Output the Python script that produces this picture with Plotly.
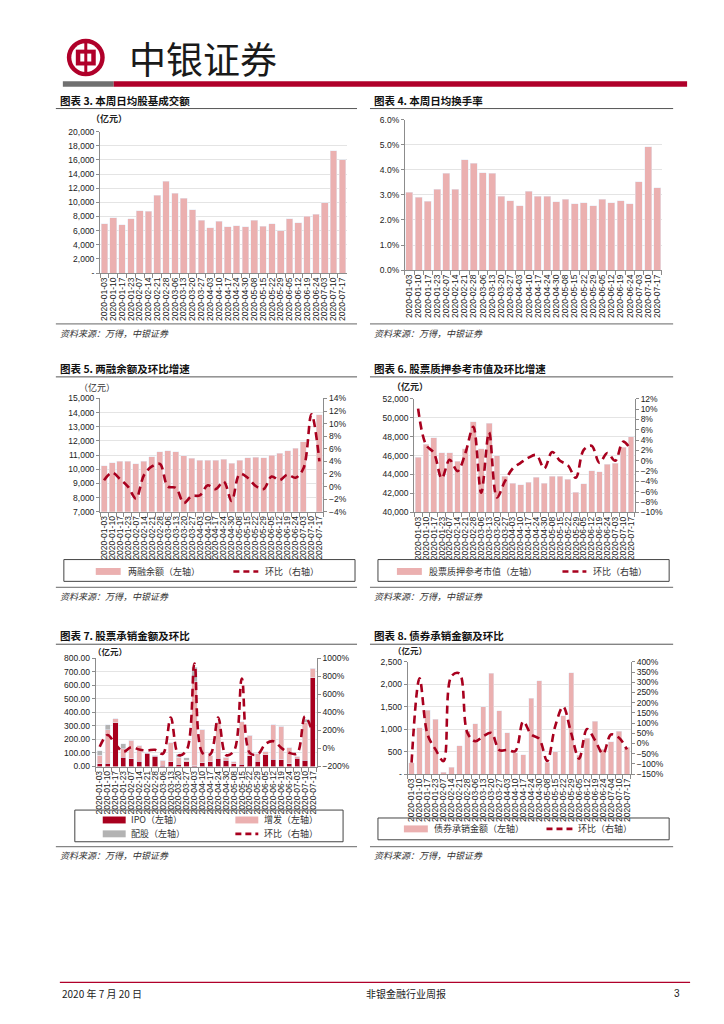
import plotly.graph_objects as go

# ---------------- data ----------------
dates_a = ["2020-01-03", "2020-01-10", "2020-01-17", "2020-01-23", "2020-02-07", "2020-02-14",
           "2020-02-21", "2020-02-28", "2020-03-06", "2020-03-13", "2020-03-20", "2020-03-27",
           "2020-04-03", "2020-04-10", "2020-04-17", "2020-04-24", "2020-04-30", "2020-05-08",
           "2020-05-15", "2020-05-22", "2020-05-29", "2020-06-05", "2020-06-12", "2020-06-19",
           "2020-06-24", "2020-07-03", "2020-07-10", "2020-07-17"]
dates_b = ["2020-01-03", "2020-01-10", "2020-01-17", "2020-01-23", "2020-02-07", "2020-02-14",
           "2020-02-21", "2020-02-28", "2020-03-06", "2020-03-13", "2020-03-20", "2020-03-27",
           "2020-04-03", "2020-04-10", "2020-04-17", "2020-04-24", "2020-04-30", "2020-05-08",
           "2020-05-15", "2020-05-22", "2020-05-29", "2020-06-05", "2020-06-12", "2020-06-19",
           "2020-06-24", "2020-07-04", "2020-07-10", "2020-07-17"]

# 图表3 本周日均股基成交额（亿元）
turnover = [7000, 7800, 6800, 7700, 8800, 8750, 11000, 13000, 11300, 10600, 8950, 7450, 6400, 7300,
            6550, 6700, 6550, 7450, 6650, 7000, 5950, 7700, 7100, 8000, 8300, 9950, 17300, 16000]
# 图表4 本周日均换手率（%）
turnover_rate = [3.10, 2.90, 2.75, 3.22, 3.86, 3.22, 4.41, 4.27, 3.88, 3.86, 2.95, 2.77, 2.57, 3.15,
                 2.95, 2.95, 2.72, 2.83, 2.65, 2.68, 2.57, 2.83, 2.68, 2.77, 2.65, 3.52, 4.92, 3.28]
# 图表5 两融余额（亿元）及环比（%）
margin_bal = [10250, 10450, 10570, 10570, 10380, 10550, 10900, 11250, 11300, 11250, 10950, 10780,
              10620, 10650, 10620, 10700, 10420, 10620, 10820, 10850, 10830, 10980, 11120, 11300,
              11500, 11950, None, 13850]
margin_chg = [1.0, 2.2, 1.2, 0.0, -1.9, 1.8, 3.2, 3.6, 0.0, -0.2, -2.6, -1.5, -1.4, 0.2, -0.4, 0.8,
              -2.3, 2.0, 1.4, 0.1, -0.4, 1.6, 1.0, 1.9, 1.4, 2.9, 11.5, 4.0]
# 图表6 股票质押参考市值（亿元）及环比（%）
pledge_val = [45800, 47200, 47900, 46300, 46300, 45400, 46700, 49600, 46700, 49400, 46000, 43800,
              43100, 42900, 43200, 43700, 43100, 43800, 43800, 43500, 42100, 43000, 44400, 44300,
              45100, 45200, 46900, 48000]
pledge_chg = [10.1, 3.1, 1.5, -3.4, 0.2, -2.0, 1.5, 6.6, -6.2, 5.5, -7.1, -4.0, -1.5, -0.4, 0.6, 1.1,
              -1.5, 1.7, 0.0, -0.9, -3.3, 2.1, 2.9, -0.4, 1.5, 0.0, 3.7, 2.1]
# 图表7 股票承销金额（亿元）及环比（%）
ipo = [20, 25, 322, 70, 58, 40, 97, 75, 10, 35, 18, 35, 5, 28, 35, 62, 47, 20, 15, 80, 40, 88, 55, 50,
       20, 62, 48, 656]
seo = [65, 245, 32, 60, 137, 115, 5, 10, 35, 140, 52, 10, 620, 245, 43, 265, 20, 15, 315, 150, 55, 20,
       255, 248, 118, 15, 280, 70]
rights = [30, 40, 0, 40, 0, 0, 0, 0, 0, 0, 20, 20, 110, 0, 0, 0, 0, 0, 0, 0, 0, 0, 0, 0, 0, 0, 20, 0]
equity_chg = [18, 150, 44, -37, 15, -11, -22, -15, -59, 344, -73, -22, 941, -48, -66, 344, -73, -29,
              776, -48, -66, 51, 80, 7, -48, -55, 355, 170]
# 图表8 债券承销金额（亿元）及环比（%）
bond_amt = [250, 1030, 1420, 1220, 40, 150, 630, 950, 1120, 1500, 2250, 1410, 920, 480, 430, 1690,
            2080, 270, 500, 1300, 2260, 420, 800, 1180, 550, 720, 960, 600]
bond_chg = [-94, 319, 44, -29, -86, 330, 343, 52, 11, 36, 52, -32, -32, -37, 108, 44, 23, -86, 84, 181,
            52, -74, 71, 16, -50, 44, 28, -29]

# ---------------- styling ----------------
OFF = 8                      # page body margin of the html
W, H = 724 - OFF, 1024 - OFF
PINK = "#EBB0B0"
DARK = "#A8001E"
GRAY = "#B3B3B3"
RED = "#B0002A"
TICKF = "Liberation Sans"
CJK = "Noto Sans CJK SC"


def X(p):
    return (p - OFF) / W


def Y(p):
    return 1 - (p - OFF) / H


def xax(x0, x1, anchor, cats):
    return dict(domain=[X(x0), X(x1)], anchor=anchor, type="category", tickmode="array",
                tickvals=cats, ticktext=cats, tickangle=-90,
                tickfont=dict(family=TICKF, size=8.5, color="#222"),
                showline=True, linecolor="#8c8c8c", linewidth=1, ticks="outside", ticklen=4,
                tickcolor="#8c8c8c", tickson="boundaries", showgrid=False,
                range=[-0.5, len(cats) - 0.5], fixedrange=True)


def yax(y_bottom, y_top, anchor, rng, dtick, fmt="", suffix="", tickvals=None, ticktext=None):
    d = dict(domain=[Y(y_bottom), Y(y_top)], anchor=anchor, range=rng, dtick=dtick,
             tickformat=fmt, ticksuffix=suffix,
             tickfont=dict(family=TICKF, size=8.5, color="#222"),
             showline=True, linecolor="#8c8c8c", linewidth=1, ticks="outside", ticklen=3,
             tickcolor="#8c8c8c", showgrid=True, gridcolor="#E4E4E4", gridwidth=1,
             zeroline=False, fixedrange=True)
    if tickvals is not None:
        d.update(tickmode="array", tickvals=tickvals, ticktext=ticktext)
    return d


def yax_right(over, anchor, rng, dtick, suffix="%"):
    return dict(overlaying=over, side="right", anchor=anchor, range=rng, dtick=dtick,
                ticksuffix=suffix, tickfont=dict(family=TICKF, size=8.5, color="#222"),
                showline=True, linecolor="#8c8c8c", linewidth=1, ticks="outside", ticklen=3,
                tickcolor="#8c8c8c", showgrid=False, zeroline=False, fixedrange=True)


LINE = dict(color=DARK, width=2.6, dash="8px,5px", shape="spline", smoothing=1.0)

fig = go.Figure()

# chart 3
fig.add_trace(go.Bar(x=dates_a, y=turnover, marker_color=PINK, width=0.76, xaxis="x", yaxis="y",
                     name="日均股基成交额"))
# chart 4
fig.add_trace(go.Bar(x=dates_a, y=turnover_rate, marker_color=PINK, width=0.76, xaxis="x2",
                     yaxis="y2", name="日均换手率"))
# chart 5
fig.add_trace(go.Bar(x=dates_a, y=margin_bal, marker_color=PINK, width=0.75, xaxis="x3", yaxis="y3",
                     name="两融余额（左轴）"))
fig.add_trace(go.Scatter(x=dates_a, y=margin_chg, mode="lines", line=LINE, xaxis="x3", yaxis="y4",
                         name="环比（右轴）"))
# chart 6
fig.add_trace(go.Bar(x=dates_a, y=pledge_val, marker_color=PINK, width=0.75, xaxis="x4", yaxis="y5",
                     name="股票质押参考市值（左轴）"))
fig.add_trace(go.Scatter(x=dates_a, y=pledge_chg, mode="lines", line=LINE, xaxis="x4", yaxis="y6",
                         name="环比（右轴）"))
# chart 7
fig.add_trace(go.Bar(x=dates_a, y=ipo, marker_color=DARK, width=0.65, xaxis="x5", yaxis="y7",
                     name="IPO（左轴）"))
fig.add_trace(go.Bar(x=dates_a, y=seo, marker_color=PINK, width=0.65, xaxis="x5", yaxis="y7",
                     name="增发（左轴）"))
fig.add_trace(go.Bar(x=dates_a, y=rights, marker_color=GRAY, width=0.65, xaxis="x5", yaxis="y7",
                     name="配股（左轴）"))
fig.add_trace(go.Scatter(x=dates_a, y=equity_chg, mode="lines", line=LINE, xaxis="x5", yaxis="y8",
                         name="环比（右轴）"))
# chart 8
fig.add_trace(go.Bar(x=dates_b, y=bond_amt, marker_color=PINK, width=0.65, xaxis="x6", yaxis="y9",
                     name="债券承销金额（左轴）"))
fig.add_trace(go.Scatter(x=dates_b, y=bond_chg, mode="lines", line=LINE, xaxis="x6", yaxis="y10",
                         name="环比（右轴）"))

t3 = list(range(0, 20001, 2000))
t8 = list(range(0, 2501, 500))

fig.update_layout(
    width=W, height=H, autosize=False, margin=dict(l=0, r=0, t=0, b=0),
    paper_bgcolor="white", plot_bgcolor="white", showlegend=False, barmode="stack",
    xaxis=xax(99.3, 346.7, "y", dates_a),
    yaxis=yax(270.7, 127.7, "x", [0, 20000], 2000,
              tickvals=t3, ticktext=["-" if v == 0 else f"{v:,}" for v in t3]),
    xaxis2=xax(405, 662.7, "y2", dates_a),
    yaxis2=yax(267.7, 115.7, "x2", [0, 6], 1, fmt=".1f", suffix="%"),
    xaxis3=xax(99.3, 323.3, "y3", dates_a),
    yaxis3=yax(511.7, 397.3, "x3", [7000, 15000], 1000, fmt=",d"),
    yaxis4=yax_right("y3", "x3", [-4, 14], 2),
    xaxis4=xax(414.3, 635.7, "y5", dates_a),
    yaxis5=yax(512.3, 397.7, "x4", [40000, 52000], 2000, fmt=",d"),
    yaxis6=yax_right("y5", "x4", [-10, 12], 2),
    xaxis5=xax(95, 316.7, "y7", dates_a),
    yaxis7=yax(769, 659.7, "x5", [0, 800], 100, fmt=",.2f"),
    yaxis8=yax_right("y7", "x5", [-200, 1000], 200),
    xaxis6=xax(407.7, 631.7, "y9", dates_b),
    yaxis9=yax(776.7, 663.3, "x6", [0, 2500], 500,
               tickvals=t8, ticktext=["-" if v == 0 else f"{v:,}" for v in t8]),
    yaxis10=yax_right("y9", "x6", [-150, 400], 50),
)

shapes = []
annos = []


def rect(x0, y0, x1, y1, fill=None, line=None, lw=1):
    shapes.append(dict(type="rect", xref="paper", yref="paper", x0=X(x0), x1=X(x1), y0=Y(y1), y1=Y(y0),
                       fillcolor=fill if fill else "rgba(0,0,0,0)",
                       line=dict(color=line if line else "rgba(0,0,0,0)", width=lw if line else 0),
                       layer="above"))


def hline(x0, x1, y, color, width=1, dash=None):
    ln = dict(color=color, width=width)
    if dash:
        ln["dash"] = dash
    shapes.append(dict(type="line", xref="paper", yref="paper", x0=X(x0), x1=X(x1), y0=Y(y), y1=Y(y),
                       line=ln, layer="above"))


def text(x, y, s, size=9, color="#222", bold=False, italic=False, xanchor="left", family=CJK):
    if bold:
        s = f"<b>{s}</b>"
    if italic:
        s = f"<i>{s}</i>"
    annos.append(dict(xref="paper", yref="paper", x=X(x), y=Y(y), text=s, showarrow=False,
                      xanchor=xanchor, yanchor="middle", font=dict(family=family, size=size, color=color)))


# header logo
shapes.append(dict(type="circle", xref="paper", yref="paper", x0=X(66), x1=X(104), y0=Y(72), y1=Y(34),
                   fillcolor=RED, line=dict(width=0)))
shapes.append(dict(type="circle", xref="paper", yref="paper", x0=X(70.5), x1=X(99.5), y0=Y(67.5),
                   y1=Y(38.5), fillcolor="white", line=dict(width=0)))
rect(75, 45, 95, 61, fill=RED)
rect(79.5, 49, 90.5, 57, fill="white")
rect(83.5, 36, 86.5, 70, fill=RED)
text(203, 53, "中银证券", size=37, color="#1a1a1a", xanchor="center")
rect(62, 77, 113, 82.5, fill="#707070")
rect(113, 77, 688, 82.5, fill=RED)

# titles and separators
titles = [(57, 96, 55, 357, "图表 3. 本周日均股基成交额"),
          (372, 96, 370, 674, "图表 4. 本周日均换手率"),
          (57, 367, 55, 357, "图表 5. 两融余额及环比增速"),
          (372, 367, 370, 674, "图表 6. 股票质押参考市值及环比增速"),
          (57, 637, 55, 357, "图表 7. 股票承销金额及环比"),
          (372, 637, 370, 674, "图表 8. 债券承销金额及环比")]
for tx, ty, lx0, lx1, s in titles:
    text(tx, ty, s, size=10.5, color="#111", bold=True)
    hline(lx0, lx1, ty + 8.5, "#555555", 1)

sources = [(57, 55, 357, 322, 332), (372, 370, 674, 322, 332),
           (57, 55, 357, 588, 597), (372, 370, 674, 588, 597),
           (57, 55, 357, 850, 859), (372, 370, 674, 850, 859)]
for tx, lx0, lx1, ly, ty in sources:
    hline(lx0, lx1, ly, "#666666", 1)
    text(tx, ty, "资料来源：万得，中银证券", size=9, color="#333", italic=True)

# unit labels
text(88, 115, "（亿元）", size=9, bold=True, color="#222")
text(76, 386, "（亿元）", size=9, color="#333")
text(390, 385, "（亿元）", size=9, bold=True, color="#222")
text(90, 652, "（亿元）", size=8.5, bold=True, color="#222")
text(391, 651, "（亿元）", size=8.5, bold=True, color="#222")

# legends
# chart 5
rect(63, 560, 355, 582, line="#444444", lw=1)
rect(95, 568.5, 120, 575.5, fill=PINK)
text(125, 572, "两融余额（左轴）", size=9, color="#333")
hline(233, 258, 572, DARK, 2.6, "6px,4px")
text(263, 572, "环比（右轴）", size=9, color="#333")
# chart 6
rect(378, 560, 670, 582, line="#444444", lw=1)
rect(397, 568.5, 422, 575.5, fill=PINK)
text(427, 572, "股票质押参考市值（左轴）", size=9, color="#333")
hline(563, 587, 572, DARK, 2.6, "6px,4px")
text(592, 572, "环比（右轴）", size=9, color="#333")
# chart 7
rect(74, 813, 343, 845, line="#444444", lw=1)
rect(102, 819.5, 125, 826.5, fill=DARK)
text(128, 823, "IPO（左轴）", size=9, color="#333")
rect(235, 819.5, 258, 826.5, fill=PINK)
text(262, 823, "增发（左轴）", size=9, color="#333")
rect(102, 833.5, 125, 840.5, fill=GRAY)
text(128, 837, "配股（左轴）", size=9, color="#333")
hline(235, 258, 837, DARK, 2.6, "6px,4px")
text(262, 837, "环比（右轴）", size=9, color="#333")
# chart 8
rect(378, 821, 670, 843, line="#444444", lw=1)
rect(404, 828.5, 428, 835.5, fill=PINK)
text(432, 832, "债券承销金额（左轴）", size=9, color="#333")
hline(547, 573, 832, DARK, 2.6, "6px,4px")
text(577, 832, "环比（右轴）", size=9, color="#333")

# footer
hline(59, 691, 987, RED, 1.3)
text(59, 998, "2020 年 7 月 20 日", size=10, color="#222")
text(406, 998, "非银金融行业周报", size=10, color="#222", xanchor="center")
text(683, 998, "3", size=10, color="#222", xanchor="right", family=TICKF)

fig.update_layout(shapes=shapes, annotations=annos)
fig.write_html("out.html")
